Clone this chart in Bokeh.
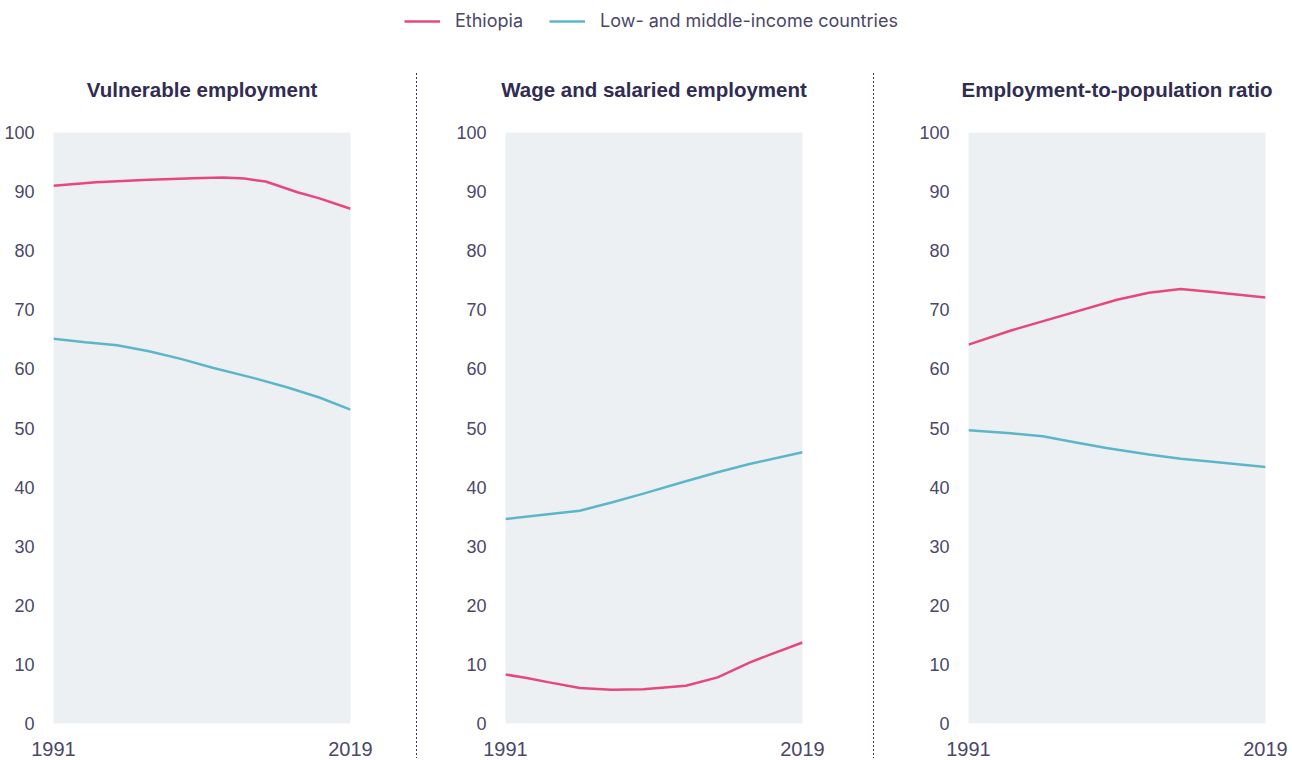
from bokeh.plotting import figure
from bokeh.layouts import column, row
from bokeh.models import Range1d, FixedTicker, Legend, LegendItem, Title, Div
from bokeh.embed import file_html
from bokeh.resources import INLINE

# ---------------- data ----------------
series_names = ["Ethiopia", "Low- and middle-income countries"]
panel_titles = ["Vulnerable employment", "Wage and salaried employment",
                "Employment-to-population ratio"]
x_ticks = [1991, 2019]
y_ticks = [0, 10, 20, 30, 40, 50, 60, 70, 80, 90, 100]

vuln_eth_years = [1991, 1995, 2000, 2005, 2007, 2009, 2011, 2014, 2016, 2019]
vuln_eth = [91.0, 91.6, 92.0, 92.3, 92.4, 92.2, 91.7, 89.9, 88.9, 87.1]
vuln_lmic_years = [1991, 1994, 1997, 2000, 2003, 2006, 2010, 2013, 2016, 2019]
vuln_lmic = [65.1, 64.5, 64.0, 63.0, 61.7, 60.2, 58.4, 56.9, 55.2, 53.1]

wage_eth_years = [1991, 1993, 1995, 1998, 2001, 2004, 2008, 2011, 2014, 2016, 2019]
wage_eth = [8.3, 7.7, 7.0, 6.0, 5.7, 5.8, 6.4, 7.8, 10.3, 11.7, 13.7]
wage_lmic_years = [1991, 1995, 1998, 2001, 2004, 2008, 2011, 2014, 2019]
wage_lmic = [34.6, 35.4, 36.0, 37.4, 38.9, 41.0, 42.5, 43.9, 45.9]

emp_eth_years = [1991, 1995, 2000, 2005, 2008, 2011, 2014, 2019]
emp_eth = [64.1, 66.5, 69.1, 71.7, 72.9, 73.5, 73.0, 72.1]
emp_lmic_years = [1991, 1995, 1998, 2001, 2004, 2008, 2011, 2014, 2019]
emp_lmic = [49.6, 49.1, 48.6, 47.6, 46.6, 45.5, 44.8, 44.3, 43.4]

# ---------------- style ----------------
PINK = "#e6487c"
TEAL = "#5cb6ca"
BG = "#edf0f3"
TITLE_C = "#312c51"
TICK_C = "#4b4768"
SEP_C = "#3b3656"
FONT = "Liberation Sans"
LEG_H = 42
ROW_H = 716


def panel(title, eth_x, eth_y, lm_x, lm_y, width, bl, br):
    p = figure(width=width, height=ROW_H, output_backend="svg", toolbar_location=None,
               x_range=Range1d(1991, 2019), y_range=Range1d(0, 100),
               min_border_left=bl, min_border_right=br, min_border_top=90,
               min_border_bottom=35)
    p.title = None
    t = Title(text=title, align="center", text_font=FONT, text_font_size="20.5px",
              text_font_style="bold", text_color=TITLE_C, standoff=64)
    p.add_layout(t, "above")
    p.background_fill_color = BG
    p.border_fill_color = "white"
    p.outline_line_color = None
    p.grid.grid_line_color = None
    p.xaxis.ticker = FixedTicker(ticks=x_ticks)
    p.yaxis.ticker = FixedTicker(ticks=y_ticks)
    for ax in (p.xaxis, p.yaxis):
        ax.axis_line_color = None
        ax.major_tick_line_color = None
        ax.minor_tick_line_color = None
        ax.major_label_text_font = FONT
        ax.major_label_text_color = TICK_C
    p.yaxis.major_label_text_font_size = "18px"
    p.yaxis.major_label_standoff = 13
    p.xaxis.major_label_text_font_size = "20px"
    p.xaxis.major_label_standoff = 12
    p.line(lm_x, lm_y, line_color=TEAL, line_width=2.5)
    p.line(eth_x, eth_y, line_color=PINK, line_width=2.5)
    return p


def separator():
    html = ('<div style="margin-left:4px;margin-top:31px;width:1px;height:685px;'
            'background-image:linear-gradient(to bottom, %s 50%%, rgba(0,0,0,0) 50%%);'
            'background-size:1px 4px;background-repeat:repeat-y;"></div>' % SEP_C)
    return Div(text=html, width=10, height=ROW_H, margin=0)


p1 = panel(panel_titles[0], vuln_eth_years, vuln_eth, vuln_lmic_years, vuln_lmic,
           412, 53, 62)
p2 = panel(panel_titles[1], wage_eth_years, wage_eth, wage_lmic_years, wage_lmic,
           447, 83, 67)
p3 = panel(panel_titles[2], emp_eth_years, emp_eth, emp_lmic_years, emp_lmic,
           411, 89, 25)

# legend strip
lg = figure(width=1290, height=LEG_H, output_backend="svg", toolbar_location=None,
            x_range=Range1d(0, 1), y_range=Range1d(0, 1),
            min_border_left=0, min_border_right=0, min_border_top=0,
            min_border_bottom=0)
lg.axis.visible = False
lg.grid.visible = False
lg.outline_line_color = None
r_eth = lg.line(x=[5, 6], y=[5, 6], line_color=PINK, line_width=2.5)
r_lm = lg.line(x=[5, 6], y=[5, 6], line_color=TEAL, line_width=2.5)
legend = Legend(items=[LegendItem(label=series_names[0], renderers=[r_eth]),
                       LegendItem(label=series_names[1], renderers=[r_lm])],
                orientation="horizontal", location=(404, 11),
                label_text_font="Inter", label_text_font_size="18px",
                label_text_color=TICK_C, glyph_width=36, label_standoff=15,
                spacing=26, border_line_color=None, background_fill_alpha=0,
                padding=0, margin=0)
lg.add_layout(legend, "center")

layout = column(lg, row(p1, separator(), p2, separator(), p3))

with open("out.html", "w") as f:
    f.write(file_html(layout, INLINE))
